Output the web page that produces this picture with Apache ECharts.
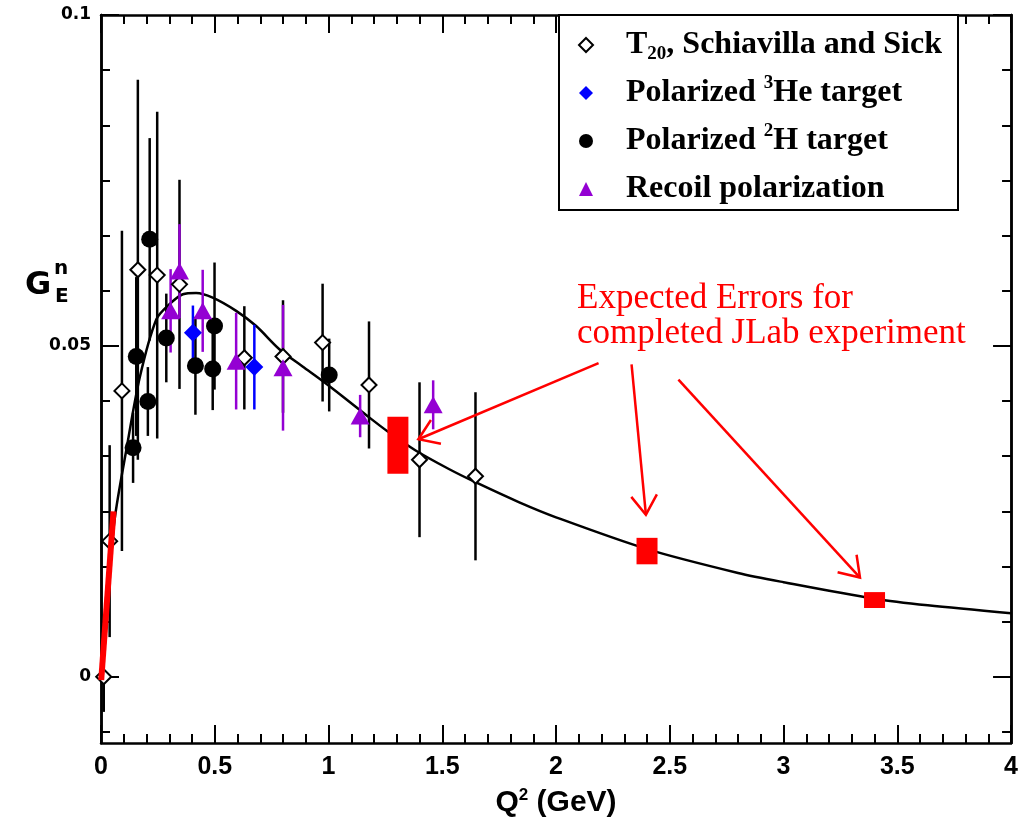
<!DOCTYPE html>
<html><head><meta charset="utf-8">
<script src="https://cdn.jsdelivr.net/npm/echarts@6/dist/echarts.min.js"></script>
<style>html,body{margin:0;padding:0;background:#fff}#c{width:1021px;height:823px}</style>
</head><body><div id="c"></div>
<script>
// ---- data ----
const t20Q   = [0.012, 0.038, 0.092, 0.162, 0.247, 0.345, 0.630, 0.800, 0.974, 1.178, 1.400, 1.646];
const t20G   = [0.000, 0.0205, 0.0432, 0.0615, 0.0607, 0.0593, 0.0482, 0.0484, 0.0505, 0.0441, 0.0328, 0.0303];
const t20E   = [0.0053, 0.0145, 0.0242, 0.0287, 0.0247, 0.0158, 0.0078, 0.0085, 0.0089, 0.0096, 0.0117, 0.0127];

const he3Q   = [0.404, 0.674];
const he3G   = [0.0520, 0.0468];
const he3E   = [0.0041, 0.0064];

const h2Q    = [0.141, 0.155, 0.206, 0.214, 0.287, 0.415, 0.491, 0.499, 1.003];
const h2G    = [0.0346, 0.0484, 0.0416, 0.0661, 0.0512, 0.0470, 0.0465, 0.0530, 0.0456];
const h2E    = [0.0053, 0.0120, 0.0052, 0.0153, 0.0067, 0.0074, 0.0062, 0.0096, 0.0055];

const recQ   = [0.306, 0.345, 0.447, 0.594, 0.800, 1.139, 1.460];
const recG   = [0.0553, 0.0613, 0.0553, 0.0477, 0.0467, 0.0394, 0.0411];
const recE   = [0.0063, 0.0071, 0.0062, 0.0073, 0.0095, 0.0032, 0.0037];

const expQ   = [1.305, 2.40, 3.40];
const expG   = [0.0350, 0.0190, 0.0116];
const expE   = [0.0043, 0.0020, 0.0012];

const lowQ   = [0.001, 0.055];
const lowG   = [-0.0005, 0.0250];

const fitQ   = [0, 0.03, 0.06, 0.113, 0.17, 0.243, 0.301, 0.36, 0.418, 0.491, 0.594, 0.682, 0.784, 0.886, 0.974, 1.061, 1.164, 1.259, 1.383, 1.529, 1.646, 1.836, 2.0, 2.4, 2.8, 3.0, 3.4, 3.634, 4.0];
const fitG   = [0, 0.0125, 0.0238, 0.0346, 0.0452, 0.0540, 0.0563, 0.0578, 0.0580, 0.0573, 0.0553, 0.0530, 0.0495, 0.0469, 0.0447, 0.0424, 0.0396, 0.0371, 0.0342, 0.0314, 0.0294, 0.0264, 0.0241, 0.0193, 0.0157, 0.0143, 0.0118, 0.0108, 0.0096];

const arrowTailQ = [2.187, 2.332, 2.538];
const arrowTailG = [0.0474, 0.0472, 0.0449];
const arrowTipQ  = [1.395, 2.395, 3.336];
const arrowTipG  = [0.0359, 0.0245, 0.0150];

const yMajor = [0, 0.05, 0.1];
const yMinor = [];
for (let k = -1; k <= 12; k++) { if (k % 6 !== 0) yMinor.push(+(k * 0.05 / 6).toFixed(6)); }

const legendText = {
  'T20': '{gap|}{b|T}{sub|20}{b|, Schiavilla and Sick}',
  '3He': '{gap|}{b|Polarized }{sup|3}{b|He target}',
  '2H': '{gap|}{b|Polarized }{sup|2}{b|H target}',
  'Recoil': '{gap|}{b|Recoil polarization}'
};

// ---- chart ----
const chart = echarts.init(document.getElementById('c'));
const zip = (a, b, c) => a.map((v, i) => c ? [v, b[i], c[i]] : [v, b[i]]);
const tickFont = '"Liberation Sans",Arial,sans-serif';
const serif = '"Liberation Serif","DejaVu Serif",serif';

function errBars(name, q, g, e, color) {
  return {
    type: 'custom', name: name, z: 3, silent: true,
    data: zip(q, g, e),
    encode: { x: 0, y: 1 },
    renderItem: function (params, api) {
      const x = api.value(0), y = api.value(1), d = api.value(2);
      const a = api.coord([x, y - d]), b = api.coord([x, y + d]);
      return { type: 'line', shape: { x1: a[0], y1: a[1], x2: b[0], y2: b[1] },
               style: { stroke: color, lineWidth: 2.5 } };
    }
  };
}

function xAxisCfg(pos, labels) {
  return {
    type: 'value', position: pos, min: 0, max: 4, interval: 0.5,
    axisLine: { show: true, onZero: false, lineStyle: { color: '#000', width: 2.5 } },
    axisTick: { show: true, inside: true, length: 18, lineStyle: { color: '#000', width: 2 } },
    minorTick: { show: true, splitNumber: 5, length: 9, lineStyle: { color: '#000', width: 2 } },
    splitLine: { show: false }, minorSplitLine: { show: false },
    axisLabel: labels ? { show: true, margin: 12, color: '#000', fontFamily: tickFont, fontWeight: 'bold', fontSize: 25,
      formatter: v => String(v) } : { show: false },
    name: labels ? '{q|Q}{s|2}{q| (GeV)}' : '',
    nameLocation: 'middle', nameGap: 44,
    nameTextStyle: { rich: {
      q: { fontFamily: tickFont, fontWeight: 'bold', fontSize: 30, color: '#000', lineHeight: 32 },
      s: { fontFamily: tickFont, fontWeight: 'bold', fontSize: 17, color: '#000', verticalAlign: 'top', lineHeight: 17 }
    } }
  };
}

function yAxisCfg(pos, vals, len, labels) {
  return {
    type: 'value', position: pos, min: -0.01, max: 0.1, offset: 0,
    axisLine: { show: true, onZero: false, lineStyle: { color: '#000', width: 2.5 } },
    axisTick: { show: true, inside: true, length: len, customValues: vals, lineStyle: { color: '#000', width: 2 } },
    splitLine: { show: false },
    axisLabel: labels ? { show: true, customValues: vals, margin: 10, color: '#000',
      fontFamily: '"DejaVu Sans",sans-serif', fontWeight: 'bold', fontSize: 17 } : { show: false }
  };
}

const option = {
  animation: false,
  backgroundColor: '#fff',
  grid: { left: 101, right: 8, top: 15, bottom: 80, containLabel: false },
  xAxis: [xAxisCfg('bottom', true), xAxisCfg('top', false)],
  yAxis: [yAxisCfg('left', yMajor, 18, true), yAxisCfg('left', yMinor, 9, false),
          yAxisCfg('right', yMajor, 18, false), yAxisCfg('right', yMinor, 9, false)],
  legend: {
    orient: 'vertical', left: 578, top: 26, padding: 0, itemWidth: 14, itemHeight: 14, itemGap: 10, z: 10,
    selectedMode: false,
    data: [
      { name: 'T20', icon: 'diamond', itemStyle: { color: '#fff', borderColor: '#000', borderWidth: 2 } },
      { name: '3He', icon: 'diamond', itemStyle: { color: '#0000ff', borderWidth: 0 } },
      { name: '2H', icon: 'circle', itemStyle: { color: '#000', borderWidth: 0 } },
      { name: 'Recoil', icon: 'triangle', itemStyle: { color: '#9400d3', borderWidth: 0 } }
    ],
    formatter: n => legendText[n],
    textStyle: { color: '#000', rich: {
      gap: { width: 28, height: 38, lineHeight: 38 },
      b: { fontFamily: serif, fontWeight: 'bold', fontSize: 32, color: '#000', lineHeight: 38 },
      sup: { fontFamily: serif, fontWeight: 'bold', fontSize: 19, color: '#000', verticalAlign: 'top', lineHeight: 22 },
      sub: { fontFamily: serif, fontWeight: 'bold', fontSize: 19, color: '#000', verticalAlign: 'bottom', lineHeight: 18 }
    } }
  },
  graphic: [
    { type: 'rect', z: 8, shape: { x: 559, y: 15, width: 399, height: 195 },
      style: { fill: '#fff', stroke: '#000', lineWidth: 2 } },
    { type: 'text', left: 25, top: 270, z: 8, style: { text: 'G', fill: '#000', font: 'bold 32px "DejaVu Sans",sans-serif' } },
    { type: 'text', left: 54, top: 259, z: 8, style: { text: 'n', fill: '#000', font: 'bold 20px "DejaVu Sans",sans-serif' } },
    { type: 'text', left: 55, top: 287, z: 8, style: { text: 'E', fill: '#000', font: 'bold 20px "DejaVu Sans",sans-serif' } },
    { type: 'text', left: 577, top: 281, z: 8, style: { text: 'Expected Errors for', fill: '#ff0000', font: '35px ' + serif } },
    { type: 'text', left: 577, top: 316, z: 8, style: { text: 'completed JLab experiment', fill: '#ff0000', font: '35px ' + serif } }
  ],
  series: [
    { type: 'line', name: 'fit', data: zip(fitQ, fitG), smooth: 0.3, showSymbol: false, symbol: 'none', z: 2, silent: true,
      lineStyle: { color: '#000', width: 2.5 } },
    errBars('eT20', t20Q, t20G, t20E, '#000'),
    errBars('e2H', h2Q, h2G, h2E, '#000'),
    errBars('e3He', he3Q, he3G, he3E, '#0000ff'),
    errBars('eRec', recQ, recG, recE, '#9400d3'),
    { type: 'scatter', name: 'T20', data: zip(t20Q, t20G), symbol: 'diamond', symbolSize: 15, z: 4,
      itemStyle: { color: '#fff', borderColor: '#000', borderWidth: 2, opacity: 1 } },
    { type: 'scatter', name: '2H', data: zip(h2Q, h2G), symbol: 'circle', symbolSize: 17, z: 4,
      itemStyle: { color: '#000', opacity: 1 } },
    { type: 'scatter', name: '3He', data: zip(he3Q, he3G), symbol: 'diamond', symbolSize: 18, z: 4,
      itemStyle: { color: '#0000ff', opacity: 1 } },
    { type: 'scatter', name: 'Recoil', data: zip(recQ, recG), symbol: 'triangle', symbolSize: [19, 17], z: 4,
      itemStyle: { color: '#9400d3', opacity: 1 } },
    { type: 'line', name: 'low', data: zip(lowQ, lowG), showSymbol: false, symbol: 'none', z: 5, silent: true,
      lineStyle: { color: '#ff0000', width: 6 } },
    { type: 'custom', name: 'expected', z: 5, silent: true, data: zip(expQ, expG, expE), encode: { x: 0, y: 1 },
      renderItem: function (params, api) {
        const x = api.value(0), y = api.value(1), d = api.value(2);
        const t = api.coord([x, y + d]), b = api.coord([x, y - d]);
        return { type: 'rect', shape: { x: t[0] - 10.5, y: t[1], width: 21, height: b[1] - t[1] },
                 style: { fill: '#ff0000' } };
      } },
    { type: 'custom', name: 'arrows', z: 6, silent: true,
      data: arrowTailQ.map((q, i) => [q, arrowTailG[i], arrowTipQ[i], arrowTipG[i]]),
      encode: { x: [0, 2], y: [1, 3] },
      renderItem: function (params, api) {
        const a = api.coord([api.value(0), api.value(1)]);
        const b = api.coord([api.value(2), api.value(3)]);
        const ang = Math.atan2(a[1] - b[1], a[0] - b[0]);
        const L = 23, h = 34 * Math.PI / 180;
        const p1 = [b[0] + L * Math.cos(ang + h), b[1] + L * Math.sin(ang + h)];
        const p2 = [b[0] + L * Math.cos(ang - h), b[1] + L * Math.sin(ang - h)];
        const st = { stroke: '#ff0000', lineWidth: 2.5, fill: null };
        return { type: 'group', children: [
          { type: 'line', shape: { x1: a[0], y1: a[1], x2: b[0], y2: b[1] }, style: st },
          { type: 'polyline', shape: { points: [p1, b, p2] }, style: st }
        ] };
      } }
  ]
};
chart.setOption(option);
</script>
</body></html>
